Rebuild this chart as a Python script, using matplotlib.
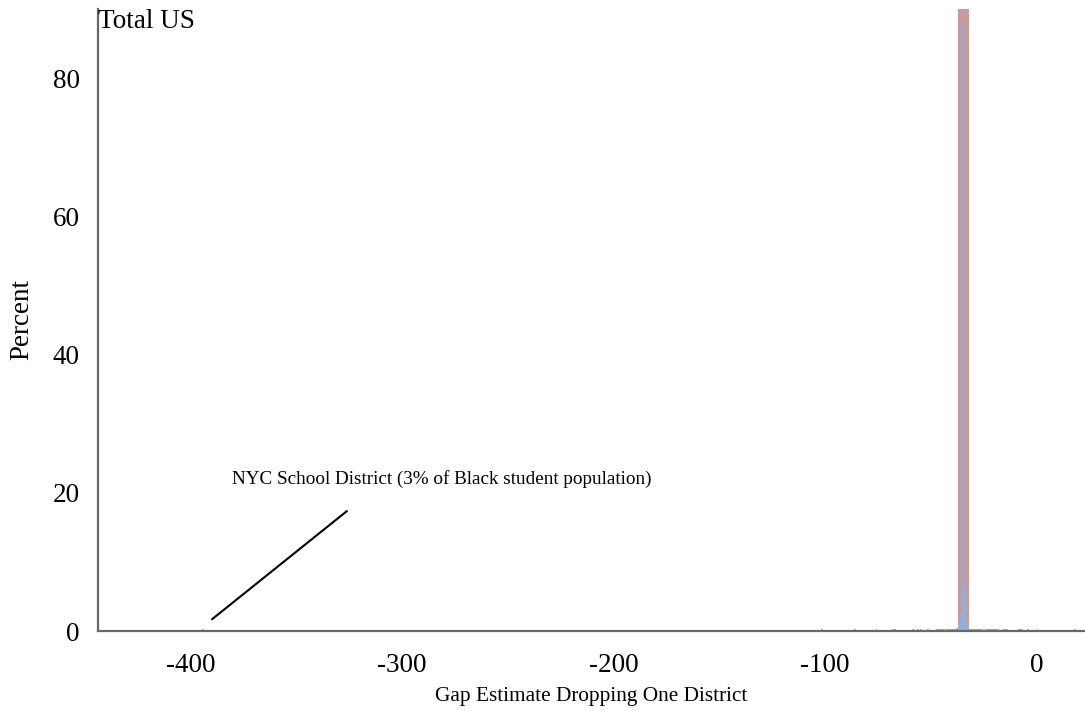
import numpy as np
import matplotlib
matplotlib.use('Agg')
import matplotlib.pyplot as plt

plt.rcParams['font.family'] = ['Liberation Serif', 'DejaVu Serif']

# 한 학군을 제외한 격차 추정치 분포 (구간 왼쪽/오른쪽 끝, 퍼센트)
blue_left = [-394.6, -101.9, -86.1, -76.0, -68.4, -58.8, -56.4, -55.0, -51.7,
             -47.6, -42.9, -38.0, -37.0, -36.2, -35.4, -34.6, -33.4,
             -32.4, -24.3, -16.3, -8.7, -4.5, 0.2, 17.7]
blue_right = [-393.8, -101.1, -85.3, -75.2, -66.4, -58.0, -55.6, -54.2, -50.9,
              -43.2, -38.0, -37.0, -36.2, -35.4, -34.6, -33.4, -32.6,
              -25.3, -17.7, -13.5, -6.4, -3.5, 0.9, 18.7]
blue_pct = [0.25, 0.35, 0.35, 0.35, 0.35, 0.35, 0.35, 0.35, 0.35,
            0.35, 0.35, 0.5, 1.2, 2.6, 88.0, 6.6, 1.2,
            0.35, 0.35, 0.35, 0.35, 0.35, 0.35, 0.35]

# 전체 추정치 (한 구간)
red_left = [-37.1]
red_right = [-31.9]
red_pct = [100.0]

x_ticks = [-400, -300, -200, -100, 0]
y_ticks = [0, 20, 40, 60, 80]

fig = plt.figure(figsize=(10.85, 7.11), dpi=100)
ax = fig.add_axes([0.0903, 0.1125, 0.9097, 0.875])

ax.bar(red_left, red_pct, width=np.subtract(red_right, red_left), align='edge',
       color='#c99a9a', linewidth=0, zorder=1)
ax.bar(blue_left, blue_pct, width=np.subtract(blue_right, blue_left), align='edge',
       color='#8fb0d8', linewidth=0, zorder=2)

ax.set_xlim(-443.7, 22.9)
ax.set_ylim(0, 90)
ax.set_xticks(x_ticks)
ax.set_xticklabels([str(t) for t in x_ticks])
ax.set_yticks(y_ticks)
ax.tick_params(axis='both', length=0, labelsize=19.5)
ax.tick_params(axis='x', pad=16)
ax.tick_params(axis='y', pad=13)

for s in ['top', 'right']:
    ax.spines[s].set_visible(False)
for s in ['left', 'bottom']:
    ax.spines[s].set_color('#686868')
    ax.spines[s].set_linewidth(1.6)

ax.set_xlabel('Gap Estimate Dropping One District', fontsize=15.3, labelpad=6)
ax.set_ylabel('Percent', fontsize=19.5)
ax.yaxis.set_label_coords(-0.065, 0.5)

ax.text(0, 1.0, 'Total US', transform=ax.transAxes, ha='left', va='top', fontsize=19.5)

ax.annotate('', xy=(-390.8, 1.45), xytext=(-325.0, 17.6),
            arrowprops=dict(arrowstyle='-', color='black', lw=1.5))
ax.text(-380.4, 22.0, 'NYC School District (3% of Black student population)',
        fontsize=13.8, ha='left', va='center')

plt.savefig('out.png', dpi=100)
